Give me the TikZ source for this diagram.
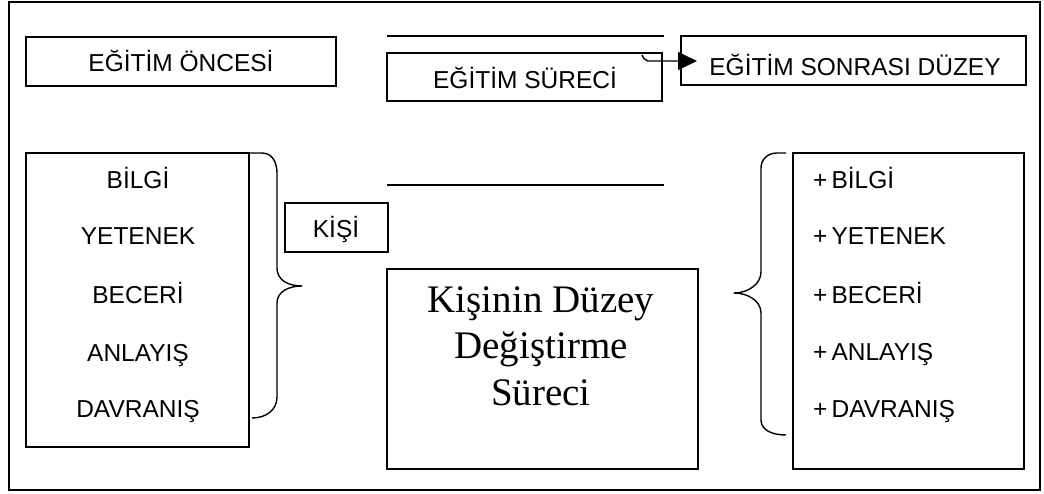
\documentclass[tikz,border=0pt]{standalone}
\usepackage{fontspec}
\setmainfont{Liberation Serif}
\newfontfamily\labelfont{Liberation Sans}
\usetikzlibrary{arrows.meta}

\tikzset{
  box/.style={draw, line width=1.4pt, inner sep=0pt},
  lbl/.style={font=\labelfont\fontsize{24.5}{28}\selectfont, anchor=base, inner sep=0pt},
  rlbl/.style={lbl, anchor=base west},
  bigtxt/.style={font=\fontsize{39}{46}\selectfont, anchor=base, inner sep=0pt},
  rule/.style={line width=1.4pt},
  brace/.style={line width=1.4pt, line join=round},
}

\begin{document}
\begin{tikzpicture}[x=1pt, y=-1pt]
  \useasboundingbox (0,0) rectangle (1044,493);
  % outer frame
  \draw[line width=2pt] (9,2) rectangle (1040,490);

  % top row of boxes
  \draw[box] (26,37) rectangle (336,86);
  \node[lbl] (once) at (181,71) {EĞİTİM ÖNCESİ};

  \draw[rule] (387,36) -- (664,36);
  \draw[box] (387,53) rectangle (662,101);
  \node[lbl] (surec) at (525,88) {EĞİTİM SÜRECİ};

  \draw[box] (681,36) rectangle (1026,85);
  \node[lbl] (sonra) at (855,75) {EĞİTİM SONRASI DÜZEY};

  % arrow from the process box to the after-training box
  \coordinate (hook) at (642,55);
  \coordinate (bend) at (648,61);
  \coordinate (tip) at (697,61);
  \draw[line width=1.4pt, -{Triangle[length=19pt,width=18pt]}]
    (hook) .. controls (644,59) .. (bend) -- (tip);

  % left list
  \draw[box] (26,153) rectangle (249,447);
  \node[lbl] (b1) at (138,188) {BİLGİ};
  \node[lbl] (b2) at (138,244) {YETENEK};
  \node[lbl] (b3) at (138,303) {BECERİ};
  \node[lbl] (b4) at (138,361) {ANLAYIŞ};
  \node[lbl] (b5) at (138,417) {DAVRANIŞ};

  % left brace
  \draw[brace] (249,153) -- (262,153)
    .. controls (272,153) and (277,162) .. (277,173)
    -- (277,268)
    .. controls (277,280) and (288,286) .. (302,286)
    .. controls (288,286) and (277,292) .. (277,303)
    -- (277,397)
    .. controls (277,410) and (266,418) .. (252,418);

  % person box
  \draw[box] (285,203) rectangle (388,252);
  \node[lbl] (kisi) at (336,237) {KİŞİ};

  % middle line and central box
  \draw[rule] (387,185) -- (664,185);
  \draw[box] (387,269) rectangle (698,469);
  \node[bigtxt] (m1) at (541,312) {Kişinin Düzey};
  \node[bigtxt] (m2) at (541,358) {Değiştirme};
  \node[bigtxt] (m3) at (541,405) {Süreci};

  % right brace
  \draw[brace] (786,153) -- (777,153)
    .. controls (767,153) and (761,160) .. (761,168)
    -- (761,272)
    .. controls (761,284) and (748,293) .. (734,293)
    .. controls (748,293) and (761,301) .. (761,313)
    -- (761,420)
    .. controls (761,430) and (772,435) .. (786,435);

  % right list
  \draw[box] (793,153) rectangle (1024,469);
  \node[rlbl] (p1) at (813,188) {+\,BİLGİ};
  \node[rlbl] (p2) at (813,244) {+\,YETENEK};
  \node[rlbl] (p3) at (813,303) {+\,BECERİ};
  \node[rlbl] (p4) at (813,360) {+\,ANLAYIŞ};
  \node[rlbl] (p5) at (813,417) {+\,DAVRANIŞ};
\end{tikzpicture}
\end{document}
